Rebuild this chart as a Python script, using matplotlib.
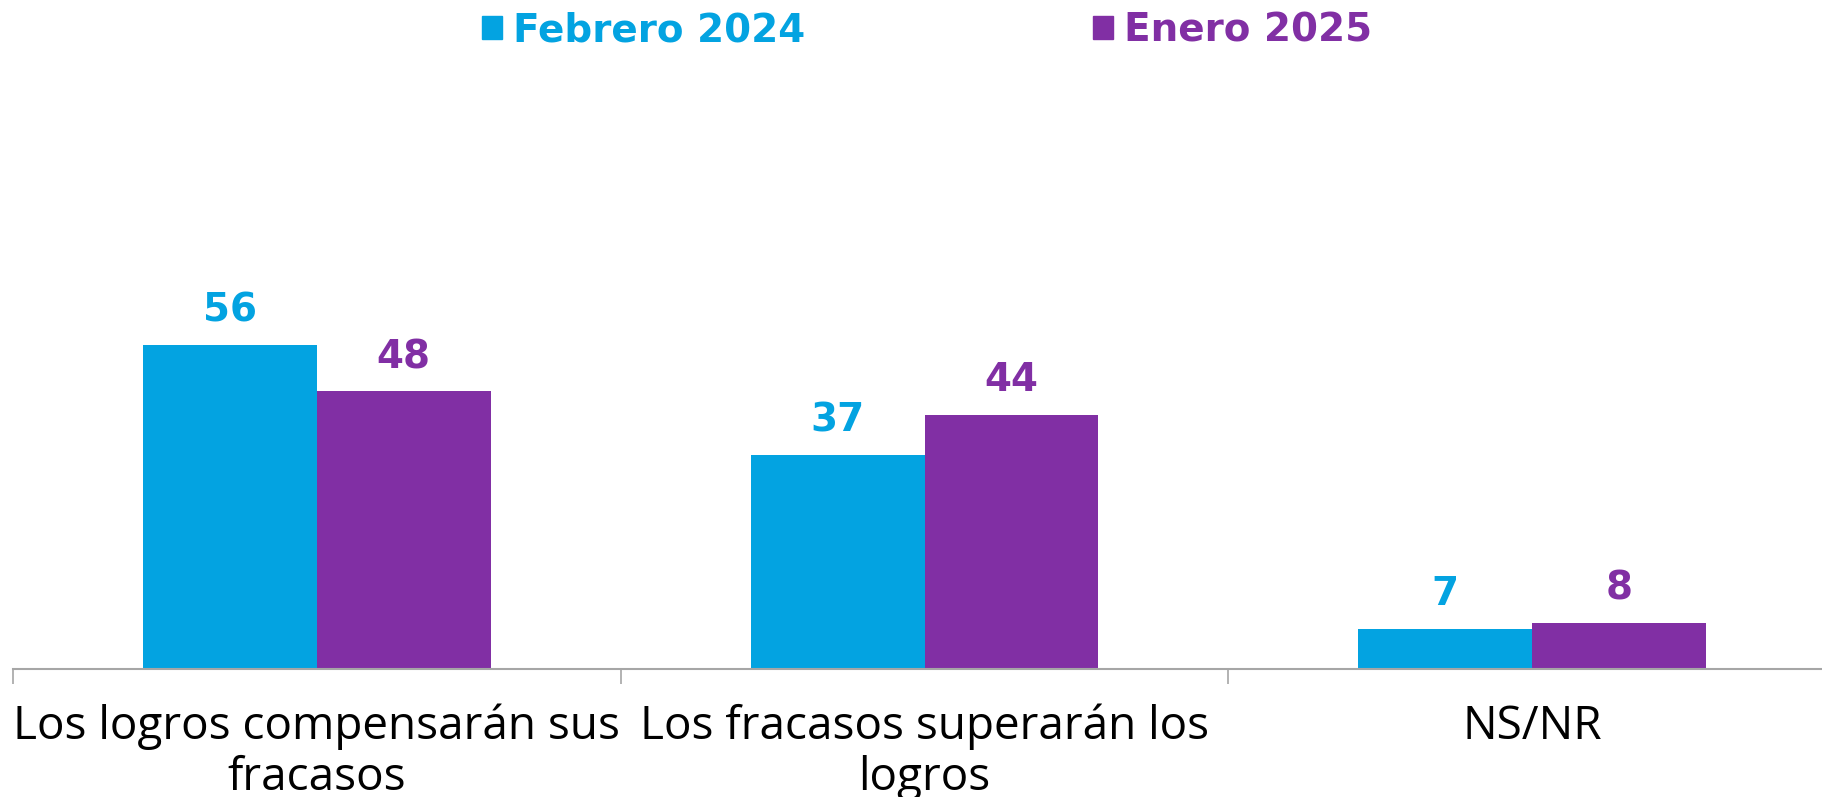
import matplotlib.pyplot as plt
from matplotlib.patches import Patch
from matplotlib.ticker import FixedLocator

categories = ['Los logros compensarán sus\nfracasos', 'Los fracasos superarán los\nlogros', 'NS/NR']
feb_2024 = [56, 37, 7]
ene_2025 = [48, 44, 8]
series_names = ['Febrero 2024', 'Enero 2025']

blue = '#03A3E1'
purple = '#812FA4'

fig = plt.figure(figsize=(18.22, 7.97), dpi=100)
ax = fig.add_axes([13 / 1822, 128 / 797, 1823 / 1822, 0.74])

w = 0.286
x = list(range(len(categories)))
bars1 = ax.bar([i - w / 2 for i in x], feb_2024, width=w, color=blue)
bars2 = ax.bar([i + w / 2 for i in x], ene_2025, width=w, color=purple)

for bars, vals, c in [(bars1, feb_2024, blue), (bars2, ene_2025, purple)]:
    for b, v in zip(bars, vals):
        ax.annotate(str(v), (b.get_x() + b.get_width() / 2, v), xytext=(0, 11),
                    textcoords='offset points', ha='center', va='bottom',
                    fontsize=28, fontweight='bold', color=c, family='DejaVu Sans')

ax.set_xlim(-0.5, 2.5)
ax.set_ylim(0, 102)
ax.set_xticks(x)
ax.set_xticklabels(categories, fontsize=33, family='Open Sans', linespacing=1.15)
ax.tick_params(axis='x', which='major', length=0, pad=25)
ax.xaxis.set_minor_locator(FixedLocator([-0.5, 0.5, 1.5, 2.5]))
ax.tick_params(axis='x', which='minor', length=11, color='#A6A6A6', width=1.2)
ax.set_yticks([])
for s in ['top', 'right', 'left']:
    ax.spines[s].set_visible(False)
ax.spines['bottom'].set_color('#A6A6A6')
ax.spines['bottom'].set_linewidth(1.5)

handles = [Patch(color=blue), Patch(color=purple)]
leg = fig.legend(handles, series_names, loc='center', bbox_to_anchor=(0.509, 0.962),
                 ncol=2, frameon=False, handlelength=0.5, handleheight=0.55,
                 handletextpad=0.3, columnspacing=7.4,
                 prop={'size': 28, 'weight': 'bold', 'family': 'DejaVu Sans'})
for t, c in zip(leg.get_texts(), [blue, purple]):
    t.set_color(c)

fig.savefig('out.png', dpi=100)
